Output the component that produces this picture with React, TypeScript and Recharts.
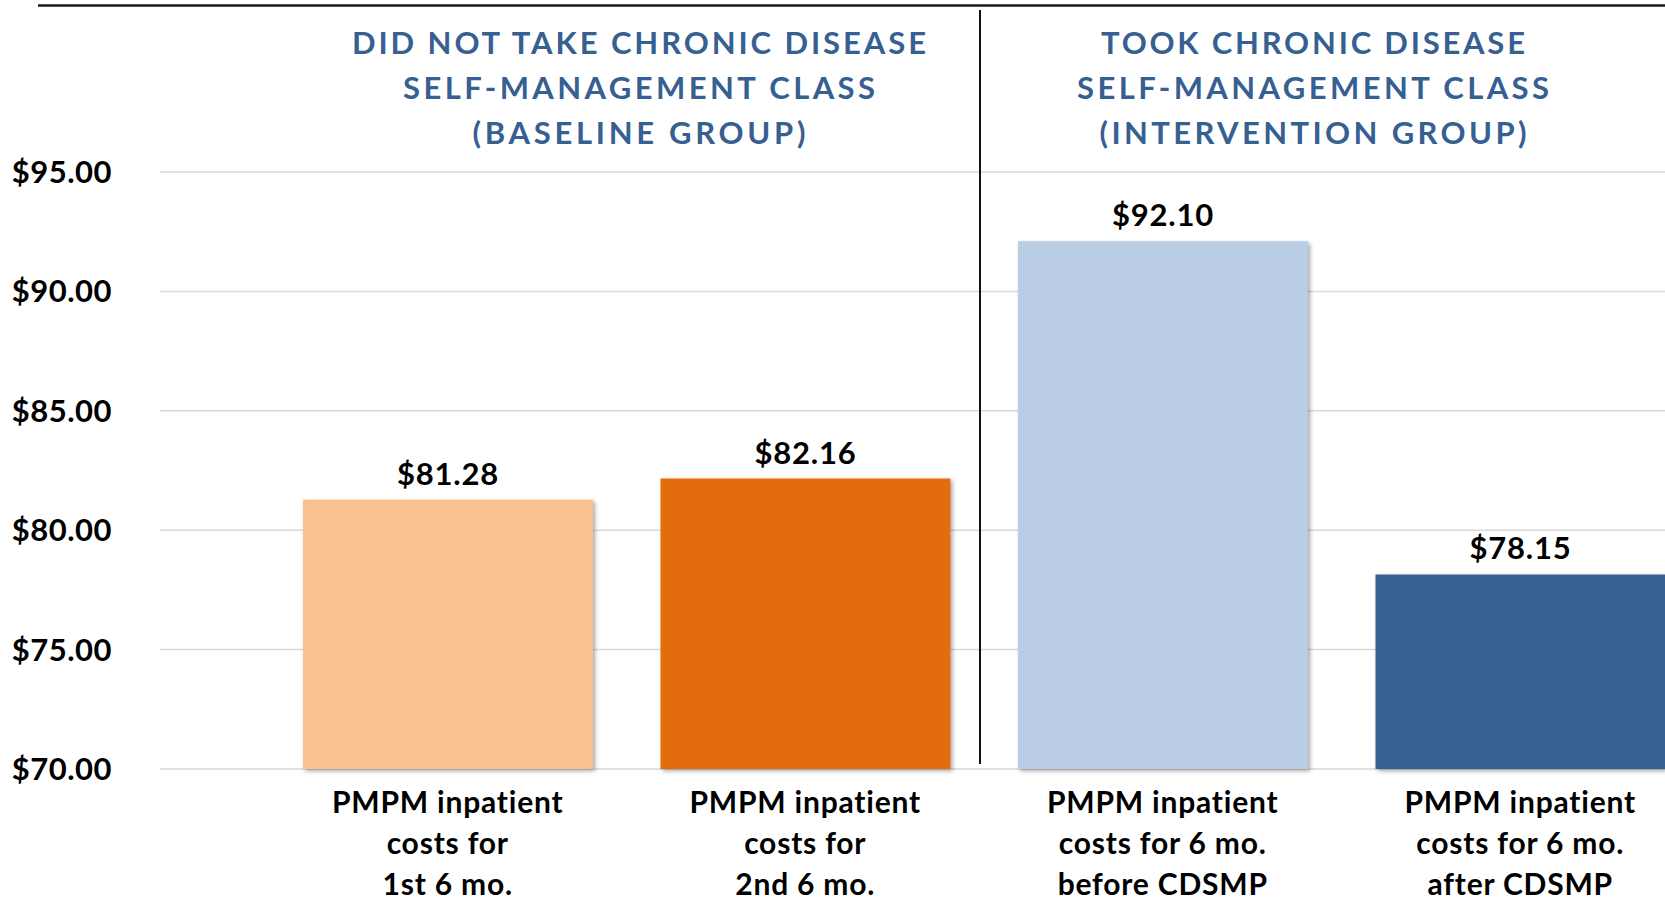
import React from 'react';
import { BarChart, Bar, XAxis, YAxis, CartesianGrid, Cell, LabelList } from 'recharts';

const categories = [
  'PMPM inpatient\ncosts for\n1st 6 mo.',
  'PMPM inpatient\ncosts for\n2nd 6 mo.',
  'PMPM inpatient\ncosts for 6 mo.\nbefore CDSMP',
  'PMPM inpatient\ncosts for 6 mo.\nafter CDSMP',
];
const costs = [81.28, 82.16, 92.1, 78.15];
const barColors = ['#F9C18F', '#E36C0E', '#B9CDE5', '#376092'];
const yTicks = [70, 75, 80, 85, 90, 95];

const baselineTitle = ['DID NOT TAKE CHRONIC DISEASE', 'SELF-MANAGEMENT CLASS', '(BASELINE GROUP)'];
const interventionTitle = ['TOOK CHRONIC DISEASE', 'SELF-MANAGEMENT CLASS', '(INTERVENTION GROUP)'];

const FONT = 'Lato, "Open Sans", sans-serif';
const money = (v: number) => `$${v.toFixed(2)}`;

const data = categories.map((name, i) => ({ name, cost: costs[i] }));

function CategoryTick({ x, y, payload }: any) {
  const lines = String(payload.value).split('\n');
  return (
    <text
      x={x}
      y={y}
      textAnchor="middle"
      fontFamily={FONT}
      fontWeight={700}
      fontSize={30}
      letterSpacing={0.8}
      fill="#000"
    >
      {lines.map((line, i) => (
        <tspan key={i} x={x} dy={i === 0 ? 44 : 41}>
          {line}
        </tspan>
      ))}
    </text>
  );
}

function GroupTitle({ lines, cx, widths }: { lines: string[]; cx: number; widths: number[] }) {
  return (
    <>
      {lines.map((line, i) => (
        <text
          key={i}
          x={cx}
          y={54 + i * 45}
          textAnchor="middle"
          fontFamily={FONT}
          fontWeight={700}
          fontSize={31}
          fill="#376092"
          textLength={widths[i]}
          lengthAdjust="spacing"
        >
          {line}
        </text>
      ))}
    </>
  );
}

export default function App() {
  return (
    <div
      style={{
        position: 'absolute',
        left: 0,
        top: 0,
        width: 1665,
        height: 900,
        overflow: 'hidden',
        background: '#fff',
        fontFamily: FONT,
      }}
    >
      <svg width={0} height={0} style={{ position: 'absolute' }}>
        <defs>
          <filter id="barShadow" x="-5%" y="-5%" width="110%" height="110%">
            <feDropShadow dx="2" dy="2" stdDeviation="2" floodColor="#000" floodOpacity="0.35" />
          </filter>
        </defs>
      </svg>
      <BarChart width={1699} height={900} data={data} margin={{ top: 172, right: 0, bottom: 0, left: 0 }}>
        <CartesianGrid vertical={false} stroke="#D9D9D9" strokeWidth={1.5} />
        <XAxis
          dataKey="name"
          interval={0}
          axisLine={false}
          tickLine={false}
          tickSize={0}
          tickMargin={0}
          height={131}
          padding={{ left: 109, right: 0 }}
          tick={<CategoryTick />}
        />
        <YAxis
          domain={[70, 95]}
          ticks={yTicks}
          width={160}
          axisLine={false}
          tickLine={false}
          tickSize={0}
          tickMargin={48}
          tickFormatter={money}
          tick={{ fill: '#000', fontSize: 31, fontWeight: 700, fontFamily: FONT, letterSpacing: 0.5 }}
        />
        <Bar dataKey="cost" barSize={290} isAnimationActive={false}>
          {data.map((d, i) => (
            <Cell key={d.name} fill={barColors[i]} filter="url(#barShadow)" />
          ))}
          <LabelList
            dataKey="cost"
            position="top"
            offset={15}
            formatter={(v: any) => money(Number(v))}
            style={{ fill: '#000', fontSize: 31, fontWeight: 700, fontFamily: FONT, letterSpacing: 0.8 }}
          />
        </Bar>
      </BarChart>
      <svg
        width={1665}
        height={900}
        style={{ position: 'absolute', left: 0, top: 0, pointerEvents: 'none' }}
      >
        <line x1={38} y1={5.5} x2={1665} y2={5.5} stroke="#1a1a1a" strokeWidth={2.5} />
        <line x1={980} y1={10} x2={980} y2={764} stroke="#111" strokeWidth={2} />
        <GroupTitle lines={baselineTitle} cx={639} widths={[574, 472, 333]} />
        <GroupTitle lines={interventionTitle} cx={1313} widths={[424, 472, 427]} />
      </svg>
    </div>
  );
}
